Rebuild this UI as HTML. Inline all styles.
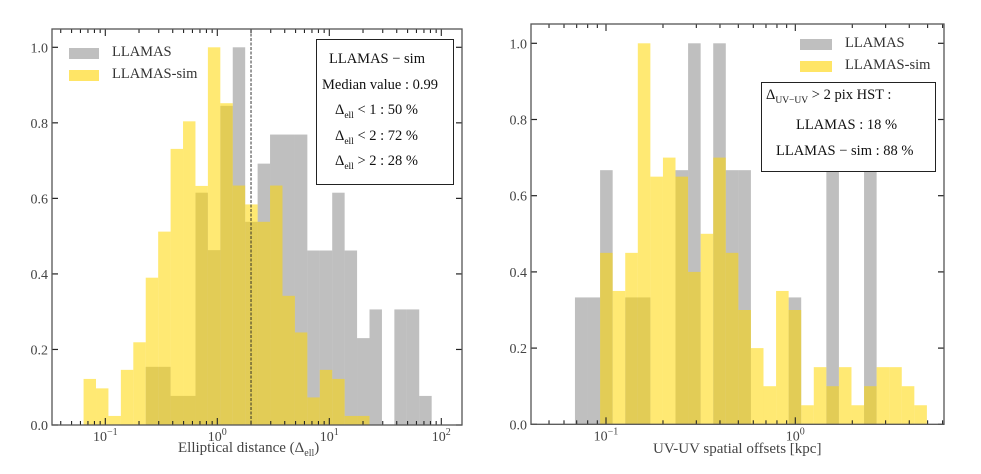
<!DOCTYPE html>
<html><head><meta charset="utf-8"><style>
body{margin:0;background:#fff;}
svg{display:block;font-family:"Liberation Serif",serif;}
.ov div,.ov span{white-space:nowrap;}
</style></head><body>
<svg id="fig" width="981" height="474" viewBox="0 0 981 474" xmlns="http://www.w3.org/2000/svg"></svg>
<script>
// ---- Left panel data (log10 bin edges) ----
const leftBinStart = -1.194;
const leftBinWidth = 0.111;
const leftGray = [0,0,0,0,0,0.154,0.154,0.077,0.077,0.615,0.463,0.845,1.0,0.538,0.692,0.769,0.769,0.769,0.462,0.462,0.615,0.462,0.23,0.306,0,0.306,0.306,0.077];
const leftYellow = [0.122,0.097,0.024,0.146,0.219,0.39,0.512,0.731,0.804,0.633,1.0,0.852,0.634,0.584,0.538,0.634,0.342,0.245,0.073,0.146,0.122,0.024,0.024];
const leftMarker = 2;
const leftXTicks = [-1,0,1,2];
// ---- Right panel data ----
const rightBinStart = -1.164;
const rightBinWidth = 0.0664;
const rightGray = [0.333,0.333,0.667,0,0.333,0.333,0,0,0.667,1.0,0,1.0,0.667,0.667,0,0,0,0.333,0,0,0.667,0,0,0.667,0,0,0,0];
const rightYellow = [0,0,0.45,0.35,0.45,1.0,0.65,0.7,0.65,0.4,0.5,0.7,0.45,0.3,0.2,0.1,0.35,0.3,0.05,0.15,0.1,0.15,0.05,0.1,0.15,0.15,0.1,0.05];
const rightXTicks = [-1,0];
const yTicks = [0,0.2,0.4,0.6,0.8,1.0];
const yTickLabels = ["0.0","0.2","0.4","0.6","0.8","1.0"];

const NS="http://www.w3.org/2000/svg";
const svg=document.getElementById('fig');
function mk(tag,attrs,parent){const e=document.createElementNS(NS,tag);for(const k in attrs)e.setAttribute(k,attrs[k]);(parent||svg).appendChild(e);return e;}

function panel(p){
  const g=mk('g',{});
  
  
  const xs=v=>p.x0+(v-p.lmin)/(p.lmax-p.lmin)*(p.x1-p.x0);
  const ys=v=>p.yZero-v*(p.yZero-p.yOne);
  function bars(arr,fill,nm){
    arr.forEach((v,i)=>{ if(v<=0) return;
      const a=xs(p.bs+i*p.bw), b=xs(p.bs+(i+1)*p.bw);
      const r=mk('rect',{x:a,y:ys(v),width:b-a,height:ys(0)-ys(v),fill:fill},g);
      
      
    });
  }
  bars(p.gray,'rgba(128,128,128,0.5)','llamas');
  bars(p.yellow,'rgba(255,215,0,0.55)','llamas-sim');
  if(p.marker){const mx=xs(Math.log10(p.marker));
    const l=mk('line',{x1:mx,x2:mx,y1:p.yTop,y2:p.yZero,stroke:'#222','stroke-width':0.9,'stroke-dasharray':'3,1.5'},g);
    
    }
  const tc='#222';
  yTicks.forEach((v,i)=>{const y=ys(v);
    mk('line',{x1:p.x0,x2:p.x0+6,y1:y,y2:y,stroke:tc,'stroke-width':1.2},g);
    mk('line',{x1:p.x1,x2:p.x1-6,y1:y,y2:y,stroke:tc,'stroke-width':1.2},g);
    const t=mk('text',{x:p.x0-4,y:y+5,'text-anchor':'end','font-size':14,fill:'#444'},g);
    t.textContent=yTickLabels[i];
    
    
  });
  for(let d=Math.floor(p.lmin);d<=Math.ceil(p.lmax);d++){
    for(let m=1;m<10;m++){const lv=d+Math.log10(m); if(lv<p.lmin||lv>p.lmax) continue;
      const x=xs(lv), len=m===1?7:4;
      mk('line',{x1:x,x2:x,y1:p.yZero,y2:p.yZero-len,stroke:tc,'stroke-width':1.1},g);
      mk('line',{x1:x,x2:x,y1:p.yTop,y2:p.yTop+len,stroke:tc,'stroke-width':1.1},g);
    }
  }
  p.xticks.forEach(d=>{const x=xs(d);
    const t=mk('text',{x:x,y:p.yZero+16,'text-anchor':'middle','font-size':14,fill:'#444'},g);
    
    
    t.textContent='10';
    const s=mk('tspan',{dy:-6,'font-size':10},t); s.textContent=String(d).replace('-','\u2212');
  });
  const fr=mk('rect',{x:p.x0,y:p.yTop,width:p.x1-p.x0,height:p.yZero-p.yTop,fill:'none',stroke:'#555','stroke-width':1.3},g);
  
  
  return g;
}

panel({name:'left-panel',x0:52,x1:462,yTop:29,yZero:425,yOne:47.3,lmin:(52-217.3)/112,lmax:(462-217.3)/112,bs:leftBinStart,bw:leftBinWidth,gray:leftGray,yellow:leftYellow,marker:leftMarker,xticks:leftXTicks});
panel({name:'right-panel',x0:531,x1:944,yTop:24,yZero:424.3,yOne:43.3,lmin:(531-795.3)/189.3,lmax:(944-795.3)/189.3,bs:rightBinStart,bw:rightBinWidth,gray:rightGray,yellow:rightYellow,marker:null,xticks:rightXTicks});
</script>
<div class="ov" style="position:absolute;left:0;top:0;width:981px;height:474px;pointer-events:none;font-family:'Liberation Serif',serif;">
  <div style="position:absolute;left:178px;top:440px;font-size:15px;color:#444;">Elliptical distance (Δ<sub style="font-size:10px">ell</sub>)</div>
  <div style="position:absolute;left:653px;top:441px;font-size:15px;color:#444;">UV-UV spatial offsets [kpc]</div>

  <div style="position:absolute;left:69px;top:44px;font-size:14.5px;color:#333;">
    <div style="height:22px;width:160px;position:relative;"><span style="position:absolute;left:0;top:4px;width:30px;height:11px;background:#bfbfbf;"></span><span style="position:absolute;left:43px;top:0;">LLAMAS</span></div>
    <div style="height:22px;width:160px;position:relative;"><span style="position:absolute;left:0;top:4px;width:30px;height:11px;background:#ffe566;"></span><span style="position:absolute;left:43px;top:0;">LLAMAS-sim</span></div>
  </div>
  <div style="position:absolute;left:316px;top:39px;width:136px;height:144px;border:1.3px solid #222;background:#fff;font-size:14.5px;color:#111;">
    <div style="position:absolute;left:12px;top:11px;">LLAMAS − sim</div>
    <div style="position:absolute;left:5px;top:37px;">Median value : 0.99</div>
    <div style="position:absolute;left:18px;top:62px;">Δ<sub style="font-size:9.5px">ell</sub> &lt; 1 : 50 %</div>
    <div style="position:absolute;left:18px;top:88px;">Δ<sub style="font-size:9.5px">ell</sub> &lt; 2 : 72 %</div>
    <div style="position:absolute;left:18px;top:113px;">Δ<sub style="font-size:9.5px">ell</sub> &gt; 2 : 28 %</div>
  </div>

  <div style="position:absolute;left:800px;top:35px;font-size:14.5px;color:#333;">
    <div style="height:22px;width:150px;position:relative;"><span style="position:absolute;left:0;top:4px;width:32px;height:11px;background:#bfbfbf;"></span><span style="position:absolute;left:45px;top:0;">LLAMAS</span></div>
    <div style="height:22px;width:150px;position:relative;"><span style="position:absolute;left:0;top:4px;width:32px;height:11px;background:#ffe566;"></span><span style="position:absolute;left:45px;top:0;">LLAMAS-sim</span></div>
  </div>
  <div style="position:absolute;left:761px;top:82px;width:173px;height:88px;border:1.3px solid #222;background:#fff;font-size:14.5px;color:#111;">
    <div style="position:absolute;left:4px;top:4px;">Δ<sub style="font-size:9.5px">UV−UV</sub> &gt; 2 pix HST :</div>
    <div style="position:absolute;left:34px;top:34px;">LLAMAS : 18 %</div>
    <div style="position:absolute;left:14px;top:60px;">LLAMAS − sim : 88 %</div>
  </div>
</div>
</body></html>
